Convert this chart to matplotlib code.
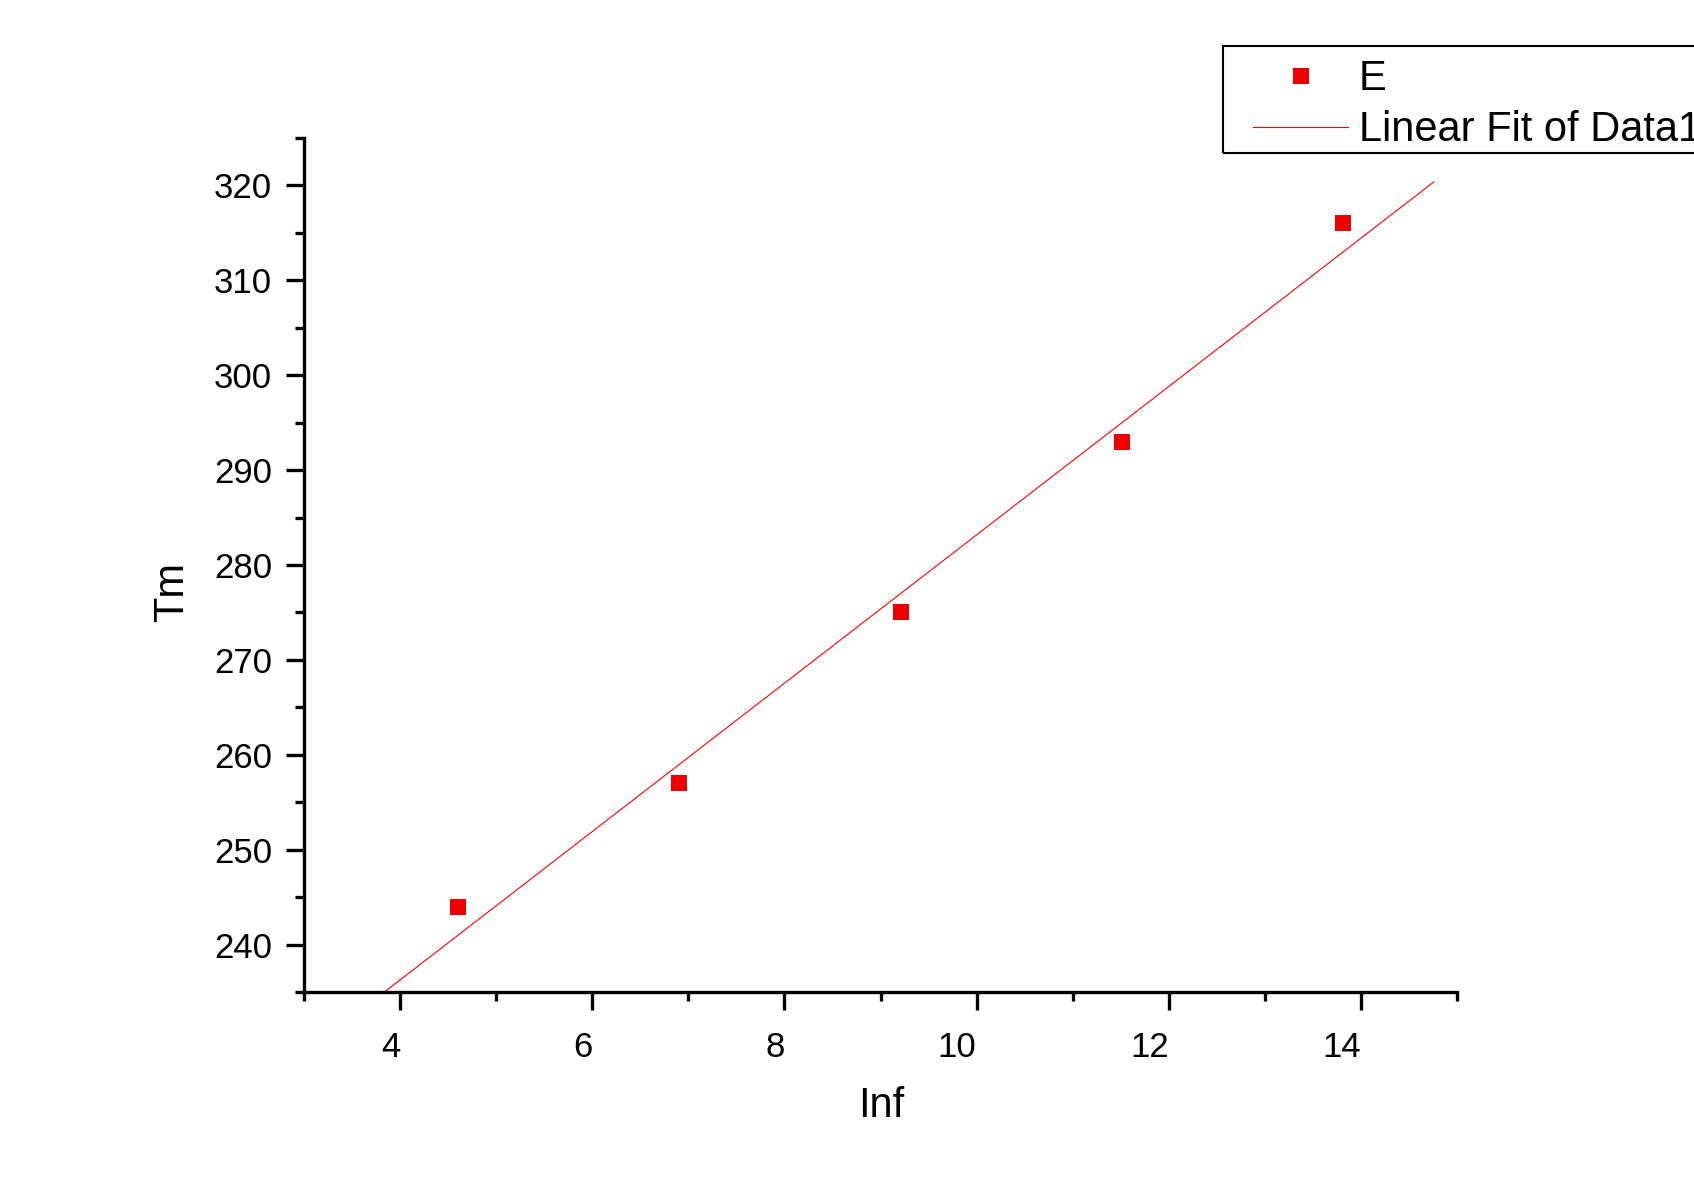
import numpy as np
import matplotlib
matplotlib.use("Agg")
import matplotlib.pyplot as plt
from matplotlib.ticker import MultipleLocator
from matplotlib.lines import Line2D
from matplotlib.patches import Rectangle
from matplotlib.legend_handler import HandlerLine2D

plt.rcParams['font.family'] = ['Liberation Sans', 'DejaVu Sans']

# data
lnf = [4.605, 6.908, 9.210, 11.513, 13.816]
tm = [244, 257, 275, 293, 316]
series_label = "E"
fit_label = "Linear Fit of Data1"
xlabel = "Inf"
ylabel = "Tm"

W, H = 1694, 1190
fig = plt.figure(figsize=(W/100, H/100), dpi=100)
ax = fig.add_axes([304/W, 1-992/H, (1457-304)/W, (992-138)/H])

# linear fit
slope, intercept = np.polyfit(lnf, tm, 1)
xf = np.linspace(3.0, 14.76, 200)
ax.plot(xf, slope*xf + intercept, color='#ff0000', lw=0.8, label=fit_label, zorder=2)
ax.plot(lnf, tm, linestyle='none', marker='s', markersize=11.5, color='#ee0000',
        markeredgewidth=0, label=series_label, zorder=3)

ax.set_xlim(3, 15)
ax.set_ylim(235, 325)
ax.xaxis.set_major_locator(MultipleLocator(2))
ax.xaxis.set_minor_locator(MultipleLocator(1))
ax.yaxis.set_major_locator(MultipleLocator(10))
ax.yaxis.set_minor_locator(MultipleLocator(5))

for s in ['top', 'right']:
    ax.spines[s].set_visible(False)
for s in ['left', 'bottom']:
    ax.spines[s].set_linewidth(2.4)

ax.tick_params(which='major', direction='out', length=13, width=2.4, labelsize=25, pad=10)
ax.tick_params(which='minor', direction='out', length=6.5, width=2.4)
ax.tick_params(axis='x', which='major', pad=15)
for lbl in ax.get_xticklabels():
    lbl.set_horizontalalignment('right')

ax.set_xlabel(xlabel, fontsize=30)
ax.set_ylabel(ylabel, fontsize=30)
ax.xaxis.set_label_coords(0.5004, -0.133)
ax.xaxis.label.set_va('center')
ax.yaxis.set_label_coords(-0.1145, 0.468)
ax.yaxis.label.set_va('center')

handles, labels = ax.get_legend_handles_labels()
leg = fig.legend(handles[::-1], labels[::-1], loc='upper left',
                 bbox_to_anchor=(1223/W, 1-51.1/H), borderaxespad=0,
                 fontsize=30, handlelength=2.8, handletextpad=0.26,
                 borderpad=0.2, labelspacing=0.265, frameon=False,
                 handler_map={Line2D: HandlerLine2D(xpad=0.52)})

# legend frame (extends past the right edge, as in the reference)
fig.add_artist(Rectangle((1223/W, 1-152.7/H), 600/W, (152.7-45.7)/H,
                         transform=fig.transFigure, fill=False,
                         edgecolor='black', linewidth=1.5))

fig.savefig("out.png", dpi=100)
